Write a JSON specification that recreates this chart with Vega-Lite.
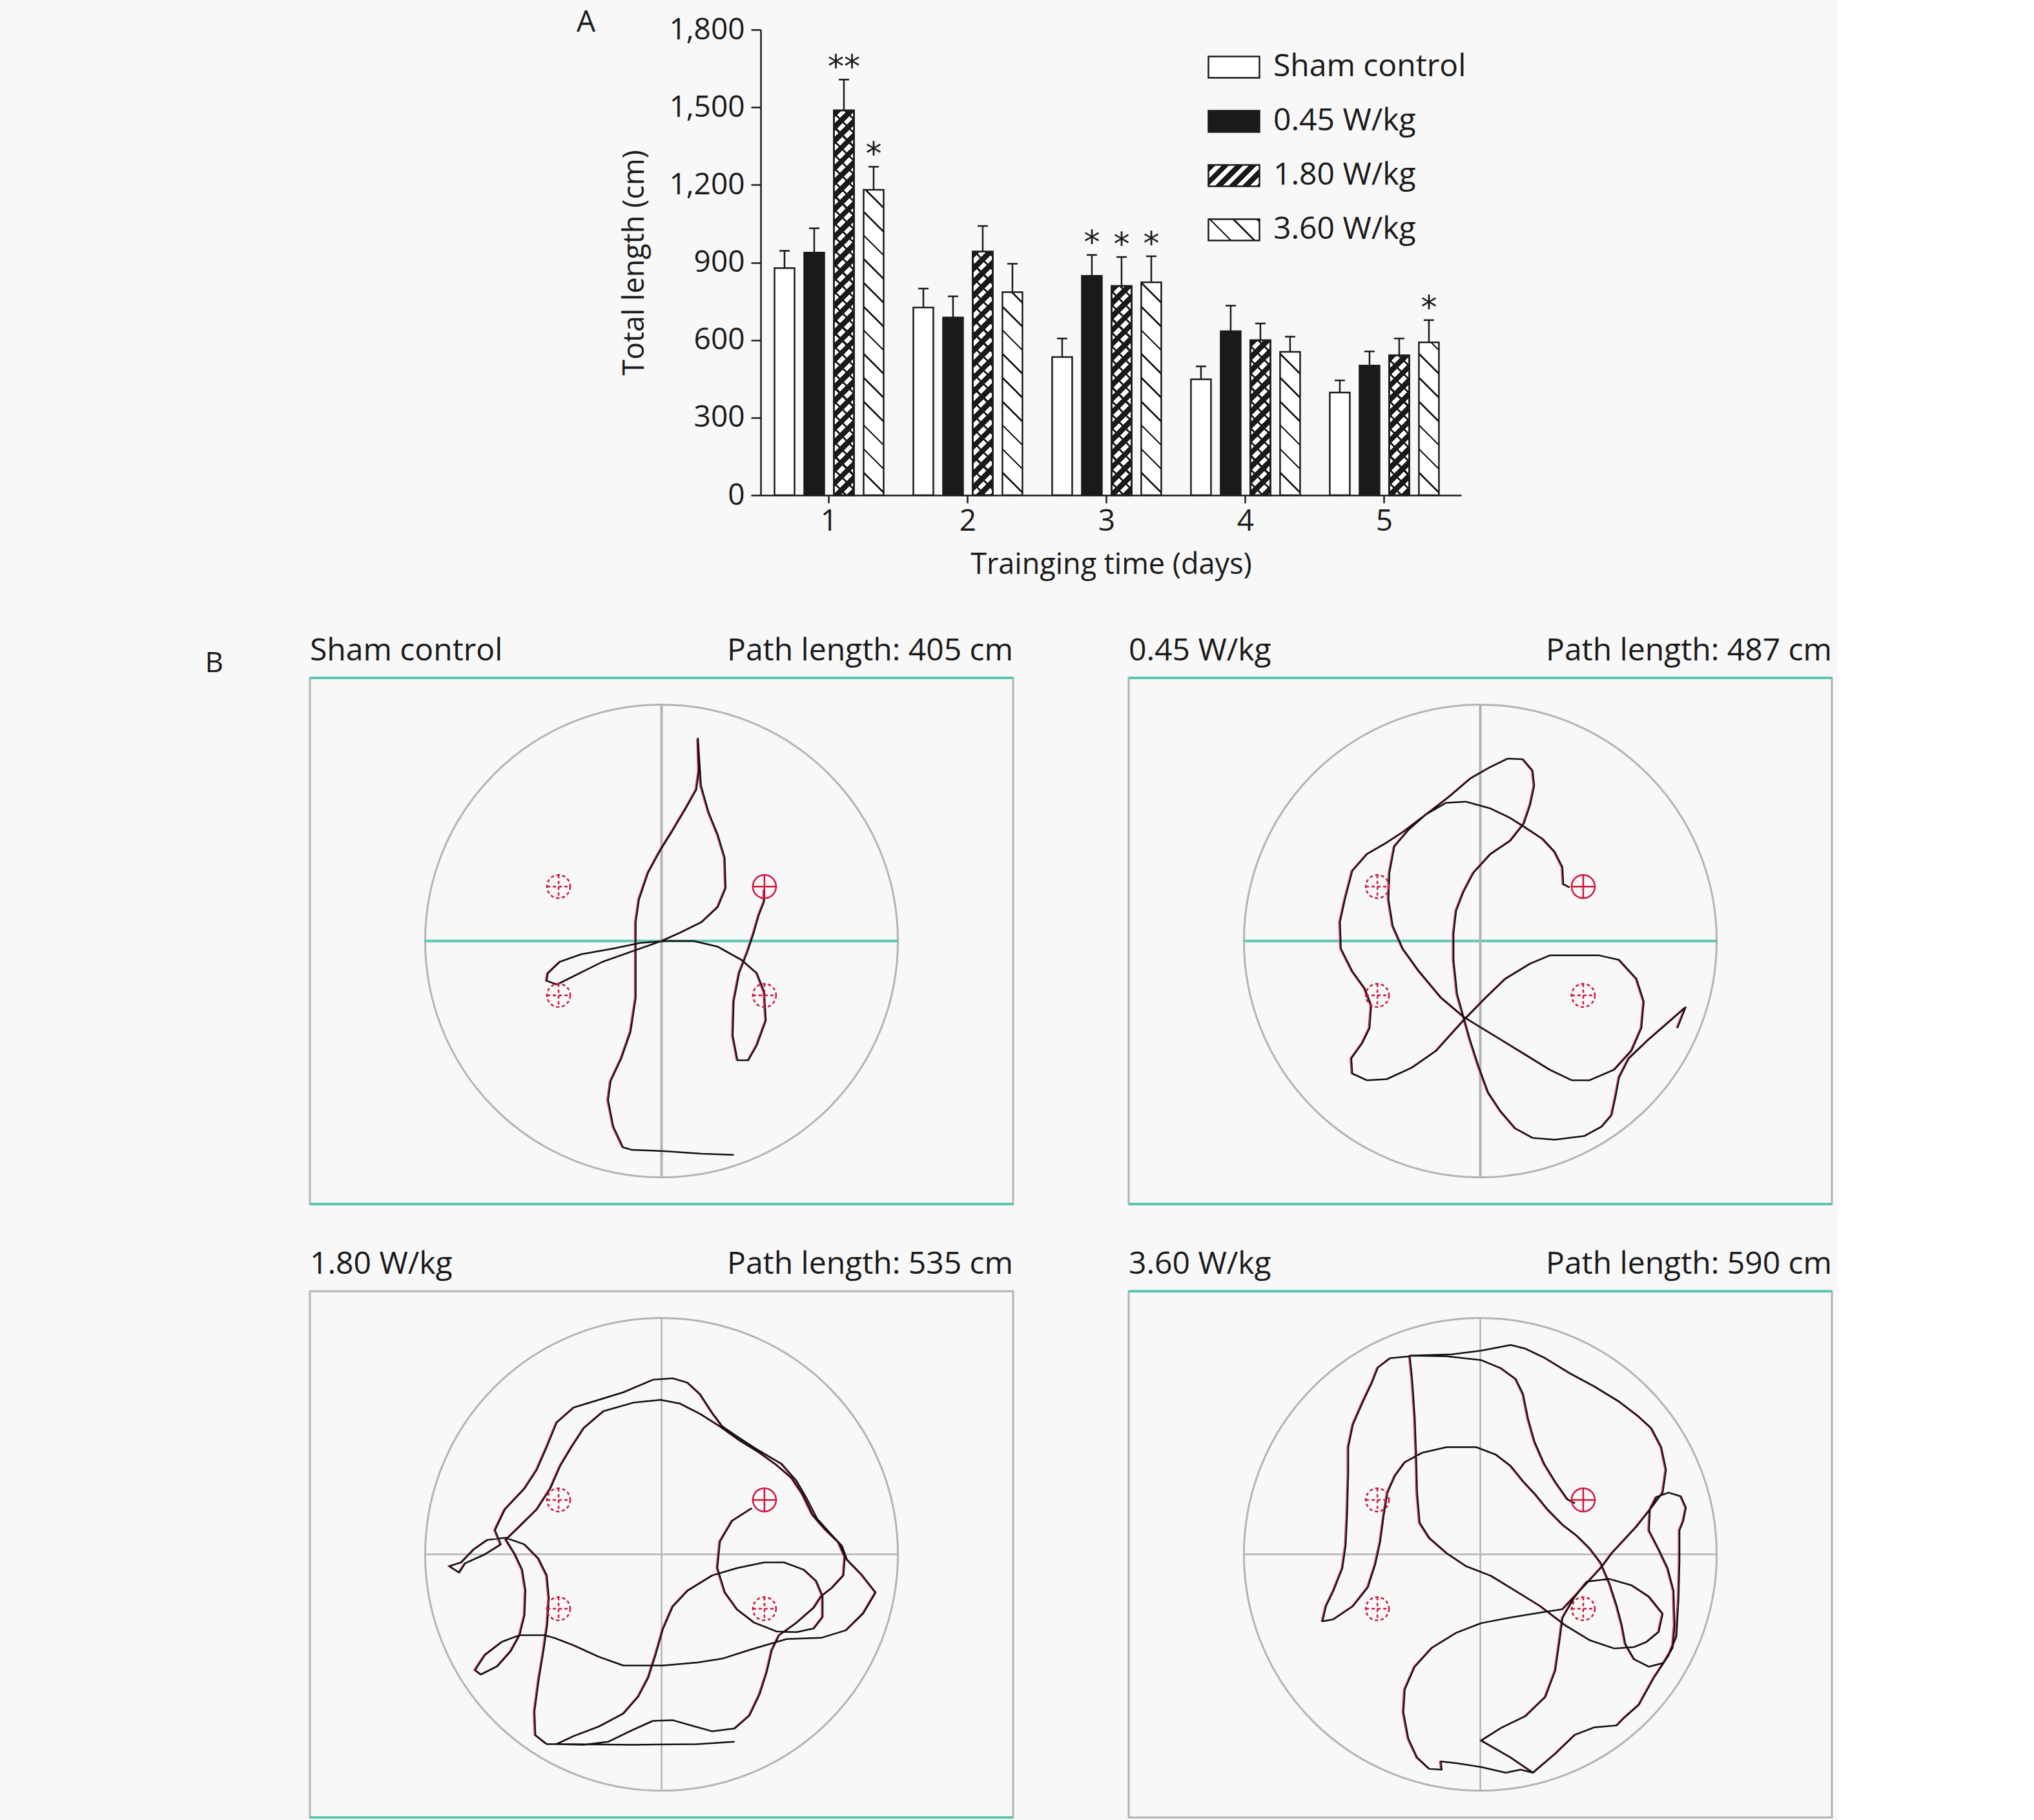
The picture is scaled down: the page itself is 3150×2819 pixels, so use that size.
{
  "$schema": "https://vega.github.io/schema/vega-lite/v6.json",
  "background": "#f8f8f8",
  "padding": {"left": 317, "top": 12, "right": 5, "bottom": 0},
  "config": {"font": "Open Sans", "view": {"stroke": null}, "axis": {"grid": false}},
  "params": [
    {"name": "hatchA", "value": [
      {"offset":0,"color":"#ffffff"},{"offset":0.05625,"color":"#ffffff"},{"offset":0.05625,"color":"#1a1a1a"},{"offset":0.0625,"color":"#1a1a1a"},
      {"offset":0.0625,"color":"#ffffff"},{"offset":0.11875,"color":"#ffffff"},{"offset":0.11875,"color":"#1a1a1a"},{"offset":0.125,"color":"#1a1a1a"},
      {"offset":0.125,"color":"#ffffff"},{"offset":0.18125,"color":"#ffffff"},{"offset":0.18125,"color":"#1a1a1a"},{"offset":0.1875,"color":"#1a1a1a"},
      {"offset":0.1875,"color":"#ffffff"},{"offset":0.24375,"color":"#ffffff"},{"offset":0.24375,"color":"#1a1a1a"},{"offset":0.25,"color":"#1a1a1a"},
      {"offset":0.25,"color":"#ffffff"},{"offset":0.30625,"color":"#ffffff"},{"offset":0.30625,"color":"#1a1a1a"},{"offset":0.3125,"color":"#1a1a1a"},
      {"offset":0.3125,"color":"#ffffff"},{"offset":0.36875,"color":"#ffffff"},{"offset":0.36875,"color":"#1a1a1a"},{"offset":0.375,"color":"#1a1a1a"},
      {"offset":0.375,"color":"#ffffff"},{"offset":0.43125,"color":"#ffffff"},{"offset":0.43125,"color":"#1a1a1a"},{"offset":0.4375,"color":"#1a1a1a"},
      {"offset":0.4375,"color":"#ffffff"},{"offset":0.49375,"color":"#ffffff"},{"offset":0.49375,"color":"#1a1a1a"},{"offset":0.5,"color":"#1a1a1a"},
      {"offset":0.5,"color":"#ffffff"},{"offset":0.55625,"color":"#ffffff"},{"offset":0.55625,"color":"#1a1a1a"},{"offset":0.5625,"color":"#1a1a1a"},
      {"offset":0.5625,"color":"#ffffff"},{"offset":0.61875,"color":"#ffffff"},{"offset":0.61875,"color":"#1a1a1a"},{"offset":0.625,"color":"#1a1a1a"},
      {"offset":0.625,"color":"#ffffff"},{"offset":0.68125,"color":"#ffffff"},{"offset":0.68125,"color":"#1a1a1a"},{"offset":0.6875,"color":"#1a1a1a"},
      {"offset":0.6875,"color":"#ffffff"},{"offset":0.74375,"color":"#ffffff"},{"offset":0.74375,"color":"#1a1a1a"},{"offset":0.75,"color":"#1a1a1a"},
      {"offset":0.75,"color":"#ffffff"},{"offset":0.80625,"color":"#ffffff"},{"offset":0.80625,"color":"#1a1a1a"},{"offset":0.8125,"color":"#1a1a1a"},
      {"offset":0.8125,"color":"#ffffff"},{"offset":0.86875,"color":"#ffffff"},{"offset":0.86875,"color":"#1a1a1a"},{"offset":0.875,"color":"#1a1a1a"},
      {"offset":0.875,"color":"#ffffff"},{"offset":0.93125,"color":"#ffffff"},{"offset":0.93125,"color":"#1a1a1a"},{"offset":0.9375,"color":"#1a1a1a"},
      {"offset":0.9375,"color":"#ffffff"},{"offset":0.99375,"color":"#ffffff"},{"offset":0.99375,"color":"#1a1a1a"},{"offset":1,"color":"#1a1a1a"}
    ]},
    {"name": "hatchB", "value": [
      {"offset":0,"color":"#1a1a1a"},{"offset":0.01833,"color":"#1a1a1a"},{"offset":0.01833,"color":"#ffffff"},{"offset":0.03333,"color":"#ffffff"},
      {"offset":0.03333,"color":"#1a1a1a"},{"offset":0.05167,"color":"#1a1a1a"},{"offset":0.05167,"color":"#ffffff"},{"offset":0.06667,"color":"#ffffff"},
      {"offset":0.06667,"color":"#1a1a1a"},{"offset":0.085,"color":"#1a1a1a"},{"offset":0.085,"color":"#ffffff"},{"offset":0.1,"color":"#ffffff"},
      {"offset":0.1,"color":"#1a1a1a"},{"offset":0.11833,"color":"#1a1a1a"},{"offset":0.11833,"color":"#ffffff"},{"offset":0.13333,"color":"#ffffff"},
      {"offset":0.13333,"color":"#1a1a1a"},{"offset":0.15167,"color":"#1a1a1a"},{"offset":0.15167,"color":"#ffffff"},{"offset":0.16667,"color":"#ffffff"},
      {"offset":0.16667,"color":"#1a1a1a"},{"offset":0.185,"color":"#1a1a1a"},{"offset":0.185,"color":"#ffffff"},{"offset":0.2,"color":"#ffffff"},
      {"offset":0.2,"color":"#1a1a1a"},{"offset":0.21833,"color":"#1a1a1a"},{"offset":0.21833,"color":"#ffffff"},{"offset":0.23333,"color":"#ffffff"},
      {"offset":0.23333,"color":"#1a1a1a"},{"offset":0.25167,"color":"#1a1a1a"},{"offset":0.25167,"color":"#ffffff"},{"offset":0.26667,"color":"#ffffff"},
      {"offset":0.26667,"color":"#1a1a1a"},{"offset":0.285,"color":"#1a1a1a"},{"offset":0.285,"color":"#ffffff"},{"offset":0.3,"color":"#ffffff"},
      {"offset":0.3,"color":"#1a1a1a"},{"offset":0.31833,"color":"#1a1a1a"},{"offset":0.31833,"color":"#ffffff"},{"offset":0.33333,"color":"#ffffff"},
      {"offset":0.33333,"color":"#1a1a1a"},{"offset":0.35167,"color":"#1a1a1a"},{"offset":0.35167,"color":"#ffffff"},{"offset":0.36667,"color":"#ffffff"},
      {"offset":0.36667,"color":"#1a1a1a"},{"offset":0.385,"color":"#1a1a1a"},{"offset":0.385,"color":"#ffffff"},{"offset":0.4,"color":"#ffffff"},
      {"offset":0.4,"color":"#1a1a1a"},{"offset":0.41833,"color":"#1a1a1a"},{"offset":0.41833,"color":"#ffffff"},{"offset":0.43333,"color":"#ffffff"},
      {"offset":0.43333,"color":"#1a1a1a"},{"offset":0.45167,"color":"#1a1a1a"},{"offset":0.45167,"color":"#ffffff"},{"offset":0.46667,"color":"#ffffff"},
      {"offset":0.46667,"color":"#1a1a1a"},{"offset":0.485,"color":"#1a1a1a"},{"offset":0.485,"color":"#ffffff"},{"offset":0.5,"color":"#ffffff"},
      {"offset":0.5,"color":"#1a1a1a"},{"offset":0.51833,"color":"#1a1a1a"},{"offset":0.51833,"color":"#ffffff"},{"offset":0.53333,"color":"#ffffff"},
      {"offset":0.53333,"color":"#1a1a1a"},{"offset":0.55167,"color":"#1a1a1a"},{"offset":0.55167,"color":"#ffffff"},{"offset":0.56667,"color":"#ffffff"},
      {"offset":0.56667,"color":"#1a1a1a"},{"offset":0.585,"color":"#1a1a1a"},{"offset":0.585,"color":"#ffffff"},{"offset":0.6,"color":"#ffffff"},
      {"offset":0.6,"color":"#1a1a1a"},{"offset":0.61833,"color":"#1a1a1a"},{"offset":0.61833,"color":"#ffffff"},{"offset":0.63333,"color":"#ffffff"},
      {"offset":0.63333,"color":"#1a1a1a"},{"offset":0.65167,"color":"#1a1a1a"},{"offset":0.65167,"color":"#ffffff"},{"offset":0.66667,"color":"#ffffff"},
      {"offset":0.66667,"color":"#1a1a1a"},{"offset":0.685,"color":"#1a1a1a"},{"offset":0.685,"color":"#ffffff"},{"offset":0.7,"color":"#ffffff"},
      {"offset":0.7,"color":"#1a1a1a"},{"offset":0.71833,"color":"#1a1a1a"},{"offset":0.71833,"color":"#ffffff"},{"offset":0.73333,"color":"#ffffff"},
      {"offset":0.73333,"color":"#1a1a1a"},{"offset":0.75167,"color":"#1a1a1a"},{"offset":0.75167,"color":"#ffffff"},{"offset":0.76667,"color":"#ffffff"},
      {"offset":0.76667,"color":"#1a1a1a"},{"offset":0.785,"color":"#1a1a1a"},{"offset":0.785,"color":"#ffffff"},{"offset":0.8,"color":"#ffffff"},
      {"offset":0.8,"color":"#1a1a1a"},{"offset":0.81833,"color":"#1a1a1a"},{"offset":0.81833,"color":"#ffffff"},{"offset":0.83333,"color":"#ffffff"},
      {"offset":0.83333,"color":"#1a1a1a"},{"offset":0.85167,"color":"#1a1a1a"},{"offset":0.85167,"color":"#ffffff"},{"offset":0.86667,"color":"#ffffff"},
      {"offset":0.86667,"color":"#1a1a1a"},{"offset":0.885,"color":"#1a1a1a"},{"offset":0.885,"color":"#ffffff"},{"offset":0.9,"color":"#ffffff"},
      {"offset":0.9,"color":"#1a1a1a"},{"offset":0.91833,"color":"#1a1a1a"},{"offset":0.91833,"color":"#ffffff"},{"offset":0.93333,"color":"#ffffff"},
      {"offset":0.93333,"color":"#1a1a1a"},{"offset":0.95167,"color":"#1a1a1a"},{"offset":0.95167,"color":"#ffffff"},{"offset":0.96667,"color":"#ffffff"},
      {"offset":0.96667,"color":"#1a1a1a"},{"offset":0.985,"color":"#1a1a1a"},{"offset":0.985,"color":"#ffffff"},{"offset":1,"color":"#ffffff"}
    ]},
    {"name": "hatchC", "value": [
      {"offset":0,"color":"rgba(26,26,26,0)"},{"offset":0.02667,"color":"rgba(26,26,26,0)"},{"offset":0.02667,"color":"#1a1a1a"},{"offset":0.03333,"color":"#1a1a1a"},
      {"offset":0.03333,"color":"rgba(26,26,26,0)"},{"offset":0.06,"color":"rgba(26,26,26,0)"},{"offset":0.06,"color":"#1a1a1a"},{"offset":0.06667,"color":"#1a1a1a"},
      {"offset":0.06667,"color":"rgba(26,26,26,0)"},{"offset":0.09333,"color":"rgba(26,26,26,0)"},{"offset":0.09333,"color":"#1a1a1a"},{"offset":0.1,"color":"#1a1a1a"},
      {"offset":0.1,"color":"rgba(26,26,26,0)"},{"offset":0.12667,"color":"rgba(26,26,26,0)"},{"offset":0.12667,"color":"#1a1a1a"},{"offset":0.13333,"color":"#1a1a1a"},
      {"offset":0.13333,"color":"rgba(26,26,26,0)"},{"offset":0.16,"color":"rgba(26,26,26,0)"},{"offset":0.16,"color":"#1a1a1a"},{"offset":0.16667,"color":"#1a1a1a"},
      {"offset":0.16667,"color":"rgba(26,26,26,0)"},{"offset":0.19333,"color":"rgba(26,26,26,0)"},{"offset":0.19333,"color":"#1a1a1a"},{"offset":0.2,"color":"#1a1a1a"},
      {"offset":0.2,"color":"rgba(26,26,26,0)"},{"offset":0.22667,"color":"rgba(26,26,26,0)"},{"offset":0.22667,"color":"#1a1a1a"},{"offset":0.23333,"color":"#1a1a1a"},
      {"offset":0.23333,"color":"rgba(26,26,26,0)"},{"offset":0.26,"color":"rgba(26,26,26,0)"},{"offset":0.26,"color":"#1a1a1a"},{"offset":0.26667,"color":"#1a1a1a"},
      {"offset":0.26667,"color":"rgba(26,26,26,0)"},{"offset":0.29333,"color":"rgba(26,26,26,0)"},{"offset":0.29333,"color":"#1a1a1a"},{"offset":0.3,"color":"#1a1a1a"},
      {"offset":0.3,"color":"rgba(26,26,26,0)"},{"offset":0.32667,"color":"rgba(26,26,26,0)"},{"offset":0.32667,"color":"#1a1a1a"},{"offset":0.33333,"color":"#1a1a1a"},
      {"offset":0.33333,"color":"rgba(26,26,26,0)"},{"offset":0.36,"color":"rgba(26,26,26,0)"},{"offset":0.36,"color":"#1a1a1a"},{"offset":0.36667,"color":"#1a1a1a"},
      {"offset":0.36667,"color":"rgba(26,26,26,0)"},{"offset":0.39333,"color":"rgba(26,26,26,0)"},{"offset":0.39333,"color":"#1a1a1a"},{"offset":0.4,"color":"#1a1a1a"},
      {"offset":0.4,"color":"rgba(26,26,26,0)"},{"offset":0.42667,"color":"rgba(26,26,26,0)"},{"offset":0.42667,"color":"#1a1a1a"},{"offset":0.43333,"color":"#1a1a1a"},
      {"offset":0.43333,"color":"rgba(26,26,26,0)"},{"offset":0.46,"color":"rgba(26,26,26,0)"},{"offset":0.46,"color":"#1a1a1a"},{"offset":0.46667,"color":"#1a1a1a"},
      {"offset":0.46667,"color":"rgba(26,26,26,0)"},{"offset":0.49333,"color":"rgba(26,26,26,0)"},{"offset":0.49333,"color":"#1a1a1a"},{"offset":0.5,"color":"#1a1a1a"},
      {"offset":0.5,"color":"rgba(26,26,26,0)"},{"offset":0.52667,"color":"rgba(26,26,26,0)"},{"offset":0.52667,"color":"#1a1a1a"},{"offset":0.53333,"color":"#1a1a1a"},
      {"offset":0.53333,"color":"rgba(26,26,26,0)"},{"offset":0.56,"color":"rgba(26,26,26,0)"},{"offset":0.56,"color":"#1a1a1a"},{"offset":0.56667,"color":"#1a1a1a"},
      {"offset":0.56667,"color":"rgba(26,26,26,0)"},{"offset":0.59333,"color":"rgba(26,26,26,0)"},{"offset":0.59333,"color":"#1a1a1a"},{"offset":0.6,"color":"#1a1a1a"},
      {"offset":0.6,"color":"rgba(26,26,26,0)"},{"offset":0.62667,"color":"rgba(26,26,26,0)"},{"offset":0.62667,"color":"#1a1a1a"},{"offset":0.63333,"color":"#1a1a1a"},
      {"offset":0.63333,"color":"rgba(26,26,26,0)"},{"offset":0.66,"color":"rgba(26,26,26,0)"},{"offset":0.66,"color":"#1a1a1a"},{"offset":0.66667,"color":"#1a1a1a"},
      {"offset":0.66667,"color":"rgba(26,26,26,0)"},{"offset":0.69333,"color":"rgba(26,26,26,0)"},{"offset":0.69333,"color":"#1a1a1a"},{"offset":0.7,"color":"#1a1a1a"},
      {"offset":0.7,"color":"rgba(26,26,26,0)"},{"offset":0.72667,"color":"rgba(26,26,26,0)"},{"offset":0.72667,"color":"#1a1a1a"},{"offset":0.73333,"color":"#1a1a1a"},
      {"offset":0.73333,"color":"rgba(26,26,26,0)"},{"offset":0.76,"color":"rgba(26,26,26,0)"},{"offset":0.76,"color":"#1a1a1a"},{"offset":0.76667,"color":"#1a1a1a"},
      {"offset":0.76667,"color":"rgba(26,26,26,0)"},{"offset":0.79333,"color":"rgba(26,26,26,0)"},{"offset":0.79333,"color":"#1a1a1a"},{"offset":0.8,"color":"#1a1a1a"},
      {"offset":0.8,"color":"rgba(26,26,26,0)"},{"offset":0.82667,"color":"rgba(26,26,26,0)"},{"offset":0.82667,"color":"#1a1a1a"},{"offset":0.83333,"color":"#1a1a1a"},
      {"offset":0.83333,"color":"rgba(26,26,26,0)"},{"offset":0.86,"color":"rgba(26,26,26,0)"},{"offset":0.86,"color":"#1a1a1a"},{"offset":0.86667,"color":"#1a1a1a"},
      {"offset":0.86667,"color":"rgba(26,26,26,0)"},{"offset":0.89333,"color":"rgba(26,26,26,0)"},{"offset":0.89333,"color":"#1a1a1a"},{"offset":0.9,"color":"#1a1a1a"},
      {"offset":0.9,"color":"rgba(26,26,26,0)"},{"offset":0.92667,"color":"rgba(26,26,26,0)"},{"offset":0.92667,"color":"#1a1a1a"},{"offset":0.93333,"color":"#1a1a1a"},
      {"offset":0.93333,"color":"rgba(26,26,26,0)"},{"offset":0.96,"color":"rgba(26,26,26,0)"},{"offset":0.96,"color":"#1a1a1a"},{"offset":0.96667,"color":"#1a1a1a"},
      {"offset":0.96667,"color":"rgba(26,26,26,0)"},{"offset":0.99333,"color":"rgba(26,26,26,0)"},{"offset":0.99333,"color":"#1a1a1a"},{"offset":1,"color":"#1a1a1a"}
    ]}
  ],
  "spacing": 85,
  "resolve": {"legend": {"stroke": "independent"}},
  "vconcat": [
    {
      "spacing": 20,
      "resolve": {"legend": {"stroke": "independent"}},
      "hconcat": [
        {
          "width": 392, "height": 10,
          "data": {"values": [{"n": 1}]},
          "mark": {"type": "point", "opacity": 0}
        },
        {
          "width": 1085, "height": 721,
          "title": {"text": "A", "anchor": "start", "frame": "bounds", "dx": -68, "dy": 40, "fontSize": 46, "fontWeight": "normal", "font": "Open Sans", "color": "#1a1a1a"},
          "data": {"values": [
            {"day":"1","group":"Sham control","value":878,"err":945,"sig":""},
            {"day":"1","group":"0.45 W/kg","value":938,"err":1032,"sig":""},
            {"day":"1","group":"1.80 W/kg","value":1488,"err":1607,"sig":"**"},
            {"day":"1","group":"3.60 W/kg","value":1181,"err":1270,"sig":"*"},
            {"day":"2","group":"Sham control","value":726,"err":799,"sig":""},
            {"day":"2","group":"0.45 W/kg","value":687,"err":769,"sig":""},
            {"day":"2","group":"1.80 W/kg","value":942,"err":1041,"sig":""},
            {"day":"2","group":"3.60 W/kg","value":785,"err":895,"sig":""},
            {"day":"3","group":"Sham control","value":534,"err":606,"sig":""},
            {"day":"3","group":"0.45 W/kg","value":848,"err":929,"sig":"*"},
            {"day":"3","group":"1.80 W/kg","value":809,"err":921,"sig":"*"},
            {"day":"3","group":"3.60 W/kg","value":823,"err":924,"sig":"*"},
            {"day":"4","group":"Sham control","value":448,"err":498,"sig":""},
            {"day":"4","group":"0.45 W/kg","value":634,"err":733,"sig":""},
            {"day":"4","group":"1.80 W/kg","value":599,"err":664,"sig":""},
            {"day":"4","group":"3.60 W/kg","value":554,"err":613,"sig":""},
            {"day":"5","group":"Sham control","value":397,"err":444,"sig":""},
            {"day":"5","group":"0.45 W/kg","value":501,"err":556,"sig":""},
            {"day":"5","group":"1.80 W/kg","value":541,"err":606,"sig":""},
            {"day":"5","group":"3.60 W/kg","value":591,"err":677,"sig":"*"}
          ]},
          "encoding": {
            "x": {"field": "day", "type": "nominal", "title": "Trainging time (days)",
                  "scale": {"paddingInner": 0.144, "paddingOuter": 0.0953, "align": 0.34},
                  "axis": {"labelAngle": 0, "labelFontSize": 46, "titleFontSize": 45, "titleFontWeight": "normal", "tickSize": 12, "tickWidth": 2.5, "domainWidth": 2.5, "domainColor": "#1a1a1a", "tickColor": "#1a1a1a", "labelColor": "#1a1a1a", "titleColor": "#1a1a1a", "labelPadding": 6, "titlePadding": 22}},
            "xOffset": {"field": "group", "type": "nominal", "sort": ["Sham control", "0.45 W/kg", "1.80 W/kg", "3.60 W/kg"], "scale": {"paddingInner": 0.326, "paddingOuter": 0.1635}}
          },
          "layer": [
            {
              "mark": {"type": "bar", "strokeWidth": 2.5},
              "encoding": {
                "y": {"field": "value", "type": "quantitative", "title": "Total length (cm)",
                      "scale": {"domain": [0, 1800], "nice": false},
                      "axis": {"values": [0, 300, 600, 900, 1200, 1500, 1800], "format": ",d", "labelFontSize": 46, "titleFontSize": 45, "titleFontWeight": "normal", "tickSize": 15, "tickWidth": 2.5, "domainWidth": 2.5, "domainColor": "#1a1a1a", "tickColor": "#1a1a1a", "labelColor": "#1a1a1a", "titleColor": "#1a1a1a", "labelPadding": 10, "titlePadding": 30}},
                "stroke": {"field": "group", "type": "nominal",
                           "scale": {"domain": ["Sham control", "0.45 W/kg", "1.80 W/kg", "3.60 W/kg"], "range": ["#1a1a1a", "#1a1a1a", "#1a1a1a", "#1a1a1a"]},
                           "legend": {"title": null, "orient": "none", "legendX": 692, "legendY": 17, "padding": 0,
                                      "labelFontSize": 48, "labelFont": "Open Sans", "labelColor": "#1a1a1a", "labelOffset": 20, "labelLimit": 500, "rowPadding": 19,
                                      "symbolType": "M-1,-0.418L1,-0.418L1,0.418L-1,0.418Z", "symbolSize": 6241, "symbolStrokeWidth": 2.5, "symbolStrokeColor": "#1a1a1a",
                                      "encoding": {"symbols": {
                                        "stroke": {"value": "#1a1a1a"},
                                        "strokeWidth": {"value": 2.5},
                                        "opacity": {"value": 1},
                                        "fill": {"value": {"expr": "datum.value === '0.45 W/kg' ? '#1a1a1a' : datum.value === '1.80 W/kg' ? {gradient: 'linear', x1: 0, y1: 0, x2: 6.86, y2: 2.865, stops: hatchB} : datum.value === '3.60 W/kg' ? {gradient: 'linear', x1: 0, y1: 1, x2: 6.34, y2: -1.649, stops: hatchA} : '#ffffff'"}}
                                      }}}},
                "fill": {"value": {"expr": "datum.group === '3.60 W/kg' ? {gradient: 'linear', x1: 0, y1: 1, x2: 18237/(961 + datum.value*datum.value*0.16045), y2: 1 - 235.65*datum.value/(961 + datum.value*datum.value*0.16045), stops: hatchA} : datum.group === '1.80 W/kg' ? {gradient: 'linear', x1: 0, y1: 0, x2: 19728/(961 + datum.value*datum.value*0.16045), y2: 254.92*datum.value/(961 + datum.value*datum.value*0.16045), stops: hatchB} : datum.group === '0.45 W/kg' ? '#1a1a1a' : '#ffffff'"}}
              }
            },
            {
              "transform": [{"filter": "datum.group === '1.80 W/kg'"}],
              "mark": {"type": "bar", "strokeWidth": 2.5, "stroke": "#1a1a1a"},
              "encoding": {
                "y": {"field": "value", "type": "quantitative"},
                "fill": {"value": {"expr": "{gradient: 'linear', x1: 0, y1: 1, x2: 19728/(961 + datum.value*datum.value*0.16045), y2: 1 - 254.92*datum.value/(961 + datum.value*datum.value*0.16045), stops: hatchC}"}}
              }
            },
            {
              "mark": {"type": "rule", "color": "#1a1a1a", "strokeWidth": 2.5},
              "encoding": {"y": {"field": "value", "type": "quantitative"}, "y2": {"field": "err"}}
            },
            {
              "mark": {"type": "tick", "color": "#1a1a1a", "thickness": 2.5, "size": 16, "orient": "horizontal", "opacity": 1},
              "encoding": {"y": {"field": "err", "type": "quantitative"}}
            },
            {
              "mark": {"type": "text", "fontSize": 50, "baseline": "alphabetic", "dy": -3, "color": "#1a1a1a", "font": "DejaVu Sans"},
              "encoding": {"y": {"field": "err", "type": "quantitative"}, "text": {"field": "sig"}}
            }
          ]
        }
      ]
    },
    {
      "title": {"text": "B", "anchor": "start", "frame": "bounds", "dx": -159, "dy": 71, "fontSize": 44, "fontWeight": "normal", "font": "Open Sans", "color": "#1a1a1a"},
      "bounds": "flush",
      "data": {"values": [
        {"panel":"Sham control","type":"pool","x":0,"y":0},
        {"panel":"0.45 W/kg","type":"pool","x":0,"y":0},
        {"panel":"1.80 W/kg","type":"pool","x":0,"y":0},
        {"panel":"3.60 W/kg","type":"pool","x":0,"y":0},
        {"panel":"Sham control","type":"hline","x":-1,"x2":1,"y":0,"y2":0},
        {"panel":"Sham control","type":"vline","x":0,"x2":0,"y":-1,"y2":1},
        {"panel":"0.45 W/kg","type":"hline","x":-1,"x2":1,"y":0,"y2":0},
        {"panel":"0.45 W/kg","type":"vline","x":0,"x2":0,"y":-1,"y2":1},
        {"panel":"1.80 W/kg","type":"hline","x":-1,"x2":1,"y":0,"y2":0},
        {"panel":"1.80 W/kg","type":"vline","x":0,"x2":0,"y":-1,"y2":1},
        {"panel":"3.60 W/kg","type":"hline","x":-1,"x2":1,"y":0,"y2":0},
        {"panel":"3.60 W/kg","type":"vline","x":0,"x2":0,"y":-1,"y2":1},
        {"panel":"Sham control","type":"edge","x":-1.486,"x2":1.486,"y":1.112,"y2":1.112},
        {"panel":"Sham control","type":"edge","x":-1.486,"x2":1.486,"y":-1.112,"y2":-1.112},
        {"panel":"0.45 W/kg","type":"edge","x":-1.486,"x2":1.486,"y":1.112,"y2":1.112},
        {"panel":"0.45 W/kg","type":"edge","x":-1.486,"x2":1.486,"y":-1.112,"y2":-1.112},
        {"panel":"1.80 W/kg","type":"edge","x":-1.486,"x2":1.486,"y":-1.112,"y2":-1.112},
        {"panel":"3.60 W/kg","type":"edge","x":-1.486,"x2":1.486,"y":1.112,"y2":1.112},
        {"panel":"Sham control","type":"platform","x":-0.435,"y":0.23,"target":false},
        {"panel":"Sham control","type":"platform","x":0.435,"y":0.23,"target":true},
        {"panel":"Sham control","type":"platform","x":-0.435,"y":-0.23,"target":false},
        {"panel":"Sham control","type":"platform","x":0.435,"y":-0.23,"target":false},
        {"panel":"0.45 W/kg","type":"platform","x":-0.435,"y":0.23,"target":false},
        {"panel":"0.45 W/kg","type":"platform","x":0.435,"y":0.23,"target":true},
        {"panel":"0.45 W/kg","type":"platform","x":-0.435,"y":-0.23,"target":false},
        {"panel":"0.45 W/kg","type":"platform","x":0.435,"y":-0.23,"target":false},
        {"panel":"1.80 W/kg","type":"platform","x":-0.435,"y":0.23,"target":false},
        {"panel":"1.80 W/kg","type":"platform","x":0.435,"y":0.23,"target":true},
        {"panel":"1.80 W/kg","type":"platform","x":-0.435,"y":-0.23,"target":false},
        {"panel":"1.80 W/kg","type":"platform","x":0.435,"y":-0.23,"target":false},
        {"panel":"3.60 W/kg","type":"platform","x":-0.435,"y":0.23,"target":false},
        {"panel":"3.60 W/kg","type":"platform","x":0.435,"y":0.23,"target":true},
        {"panel":"3.60 W/kg","type":"platform","x":-0.435,"y":-0.23,"target":false},
        {"panel":"3.60 W/kg","type":"platform","x":0.435,"y":-0.23,"target":false},
        {"panel":"Sham control","type":"name","x":-1.486,"y":1.112},
        {"panel":"0.45 W/kg","type":"name","x":-1.486,"y":1.112},
        {"panel":"1.80 W/kg","type":"name","x":-1.486,"y":1.112},
        {"panel":"3.60 W/kg","type":"name","x":-1.486,"y":1.112},
        {"panel":"Sham control","type":"label","x":1.486,"y":1.112,"label":"Path length: 405 cm"},
        {"panel":"0.45 W/kg","type":"label","x":1.486,"y":1.112,"label":"Path length: 487 cm"},
        {"panel":"1.80 W/kg","type":"label","x":1.486,"y":1.112,"label":"Path length: 535 cm"},
        {"panel":"3.60 W/kg","type":"label","x":1.486,"y":1.112,"label":"Path length: 590 cm"},

        {"panel":"Sham control","type":"path","i":1,"x":0.305,"y":-0.904},
        {"panel":"Sham control","type":"path","i":2,"x":0.170,"y":-0.899},
        {"panel":"Sham control","type":"path","i":3,"x":0.011,"y":-0.888},
        {"panel":"Sham control","type":"path","i":4,"x":-0.124,"y":-0.883},
        {"panel":"Sham control","type":"path","i":5,"x":-0.163,"y":-0.872},
        {"panel":"Sham control","type":"path","i":6,"x":-0.204,"y":-0.784},
        {"panel":"Sham control","type":"path","i":7,"x":-0.226,"y":-0.672},
        {"panel":"Sham control","type":"path","i":8,"x":-0.215,"y":-0.592},
        {"panel":"Sham control","type":"path","i":9,"x":-0.170,"y":-0.496},
        {"panel":"Sham control","type":"path","i":10,"x":-0.131,"y":-0.384},
        {"panel":"Sham control","type":"path","i":11,"x":-0.109,"y":-0.240},
        {"panel":"Sham control","type":"path","i":12,"x":-0.109,"y":-0.080},
        {"panel":"Sham control","type":"path","i":13,"x":-0.109,"y":0.080},
        {"panel":"Sham control","type":"path","i":14,"x":-0.095,"y":0.176},
        {"panel":"Sham control","type":"path","i":15,"x":-0.057,"y":0.288},
        {"panel":"Sham control","type":"path","i":16,"x":-0.005,"y":0.384},
        {"panel":"Sham control","type":"path","i":17,"x":0.045,"y":0.464},
        {"panel":"Sham control","type":"path","i":18,"x":0.102,"y":0.560},
        {"panel":"Sham control","type":"path","i":19,"x":0.147,"y":0.640},
        {"panel":"Sham control","type":"path","i":20,"x":0.158,"y":0.720},
        {"panel":"Sham control","type":"path","i":21,"x":0.154,"y":0.856},
        {"panel":"Sham control","type":"path","i":22,"x":0.167,"y":0.656},
        {"panel":"Sham control","type":"path","i":23,"x":0.199,"y":0.544},
        {"panel":"Sham control","type":"path","i":24,"x":0.238,"y":0.448},
        {"panel":"Sham control","type":"path","i":25,"x":0.267,"y":0.352},
        {"panel":"Sham control","type":"path","i":26,"x":0.271,"y":0.224},
        {"panel":"Sham control","type":"path","i":27,"x":0.238,"y":0.144},
        {"panel":"Sham control","type":"path","i":28,"x":0.170,"y":0.080},
        {"panel":"Sham control","type":"path","i":29,"x":0.079,"y":0.035},
        {"panel":"Sham control","type":"path","i":30,"x":0.000,"y":0.000},
        {"panel":"Sham control","type":"path","i":31,"x":-0.113,"y":-0.040},
        {"panel":"Sham control","type":"path","i":32,"x":-0.249,"y":-0.088},
        {"panel":"Sham control","type":"path","i":33,"x":-0.362,"y":-0.144},
        {"panel":"Sham control","type":"path","i":34,"x":-0.441,"y":-0.184},
        {"panel":"Sham control","type":"path","i":35,"x":-0.486,"y":-0.168},
        {"panel":"Sham control","type":"path","i":36,"x":-0.480,"y":-0.136},
        {"panel":"Sham control","type":"path","i":37,"x":-0.430,"y":-0.088},
        {"panel":"Sham control","type":"path","i":38,"x":-0.339,"y":-0.056},
        {"panel":"Sham control","type":"path","i":39,"x":-0.204,"y":-0.032},
        {"panel":"Sham control","type":"path","i":40,"x":-0.090,"y":-0.008},
        {"panel":"Sham control","type":"path","i":41,"x":0.023,"y":0.000},
        {"panel":"Sham control","type":"path","i":42,"x":0.136,"y":0.000},
        {"panel":"Sham control","type":"path","i":43,"x":0.238,"y":-0.024},
        {"panel":"Sham control","type":"path","i":44,"x":0.339,"y":-0.080},
        {"panel":"Sham control","type":"path","i":45,"x":0.403,"y":-0.136},
        {"panel":"Sham control","type":"path","i":46,"x":0.434,"y":-0.216},
        {"panel":"Sham control","type":"path","i":47,"x":0.441,"y":-0.336},
        {"panel":"Sham control","type":"path","i":48,"x":0.403,"y":-0.440},
        {"panel":"Sham control","type":"path","i":49,"x":0.367,"y":-0.504},
        {"panel":"Sham control","type":"path","i":50,"x":0.321,"y":-0.504},
        {"panel":"Sham control","type":"path","i":51,"x":0.301,"y":-0.400},
        {"panel":"Sham control","type":"path","i":52,"x":0.305,"y":-0.256},
        {"panel":"Sham control","type":"path","i":53,"x":0.328,"y":-0.136},
        {"panel":"Sham control","type":"path","i":54,"x":0.362,"y":-0.048},
        {"panel":"Sham control","type":"path","i":55,"x":0.389,"y":0.032},
        {"panel":"Sham control","type":"path","i":56,"x":0.412,"y":0.112},
        {"panel":"Sham control","type":"path","i":57,"x":0.434,"y":0.168},
        {"panel":"Sham control","type":"path","i":58,"x":0.434,"y":0.216},

        {"panel":"0.45 W/kg","type":"path","i":1,"x":0.833,"y":-0.368},
        {"panel":"0.45 W/kg","type":"path","i":2,"x":0.868,"y":-0.280},
        {"panel":"0.45 W/kg","type":"path","i":3,"x":0.795,"y":-0.344},
        {"panel":"0.45 W/kg","type":"path","i":4,"x":0.712,"y":-0.416},
        {"panel":"0.45 W/kg","type":"path","i":5,"x":0.628,"y":-0.496},
        {"panel":"0.45 W/kg","type":"path","i":6,"x":0.587,"y":-0.576},
        {"panel":"0.45 W/kg","type":"path","i":7,"x":0.572,"y":-0.656},
        {"panel":"0.45 W/kg","type":"path","i":8,"x":0.555,"y":-0.736},
        {"panel":"0.45 W/kg","type":"path","i":9,"x":0.514,"y":-0.784},
        {"panel":"0.45 W/kg","type":"path","i":10,"x":0.441,"y":-0.824},
        {"panel":"0.45 W/kg","type":"path","i":11,"x":0.315,"y":-0.840},
        {"panel":"0.45 W/kg","type":"path","i":12,"x":0.221,"y":-0.832},
        {"panel":"0.45 W/kg","type":"path","i":13,"x":0.148,"y":-0.792},
        {"panel":"0.45 W/kg","type":"path","i":14,"x":0.086,"y":-0.720},
        {"panel":"0.45 W/kg","type":"path","i":15,"x":0.033,"y":-0.640},
        {"panel":"0.45 W/kg","type":"path","i":16,"x":-0.008,"y":-0.528},
        {"panel":"0.45 W/kg","type":"path","i":17,"x":-0.044,"y":-0.416},
        {"panel":"0.45 W/kg","type":"path","i":18,"x":-0.071,"y":-0.320},
        {"panel":"0.45 W/kg","type":"path","i":19,"x":-0.098,"y":-0.224},
        {"panel":"0.45 W/kg","type":"path","i":20,"x":-0.113,"y":-0.080},
        {"panel":"0.45 W/kg","type":"path","i":21,"x":-0.113,"y":0.032},
        {"panel":"0.45 W/kg","type":"path","i":22,"x":-0.102,"y":0.128},
        {"panel":"0.45 W/kg","type":"path","i":23,"x":-0.071,"y":0.208},
        {"panel":"0.45 W/kg","type":"path","i":24,"x":-0.029,"y":0.288},
        {"panel":"0.45 W/kg","type":"path","i":25,"x":0.044,"y":0.368},
        {"panel":"0.45 W/kg","type":"path","i":26,"x":0.127,"y":0.424},
        {"panel":"0.45 W/kg","type":"path","i":27,"x":0.184,"y":0.496},
        {"panel":"0.45 W/kg","type":"path","i":28,"x":0.211,"y":0.576},
        {"panel":"0.45 W/kg","type":"path","i":29,"x":0.228,"y":0.656},
        {"panel":"0.45 W/kg","type":"path","i":30,"x":0.221,"y":0.720},
        {"panel":"0.45 W/kg","type":"path","i":31,"x":0.180,"y":0.768},
        {"panel":"0.45 W/kg","type":"path","i":32,"x":0.117,"y":0.771},
        {"panel":"0.45 W/kg","type":"path","i":33,"x":0.044,"y":0.736},
        {"panel":"0.45 W/kg","type":"path","i":34,"x":-0.040,"y":0.688},
        {"panel":"0.45 W/kg","type":"path","i":35,"x":-0.134,"y":0.608},
        {"panel":"0.45 W/kg","type":"path","i":36,"x":-0.217,"y":0.544},
        {"panel":"0.45 W/kg","type":"path","i":37,"x":-0.322,"y":0.464},
        {"panel":"0.45 W/kg","type":"path","i":38,"x":-0.395,"y":0.416},
        {"panel":"0.45 W/kg","type":"path","i":39,"x":-0.478,"y":0.368},
        {"panel":"0.45 W/kg","type":"path","i":40,"x":-0.541,"y":0.296},
        {"panel":"0.45 W/kg","type":"path","i":41,"x":-0.572,"y":0.176},
        {"panel":"0.45 W/kg","type":"path","i":42,"x":-0.593,"y":0.080},
        {"panel":"0.45 W/kg","type":"path","i":43,"x":-0.589,"y":-0.032},
        {"panel":"0.45 W/kg","type":"path","i":44,"x":-0.541,"y":-0.128},
        {"panel":"0.45 W/kg","type":"path","i":45,"x":-0.489,"y":-0.200},
        {"panel":"0.45 W/kg","type":"path","i":46,"x":-0.461,"y":-0.272},
        {"panel":"0.45 W/kg","type":"path","i":47,"x":-0.468,"y":-0.368},
        {"panel":"0.45 W/kg","type":"path","i":48,"x":-0.499,"y":-0.432},
        {"panel":"0.45 W/kg","type":"path","i":49,"x":-0.545,"y":-0.496},
        {"panel":"0.45 W/kg","type":"path","i":50,"x":-0.541,"y":-0.560},
        {"panel":"0.45 W/kg","type":"path","i":51,"x":-0.478,"y":-0.589},
        {"panel":"0.45 W/kg","type":"path","i":52,"x":-0.395,"y":-0.584},
        {"panel":"0.45 W/kg","type":"path","i":53,"x":-0.290,"y":-0.536},
        {"panel":"0.45 W/kg","type":"path","i":54,"x":-0.186,"y":-0.464},
        {"panel":"0.45 W/kg","type":"path","i":55,"x":-0.071,"y":-0.336},
        {"panel":"0.45 W/kg","type":"path","i":56,"x":0.023,"y":-0.240},
        {"panel":"0.45 W/kg","type":"path","i":57,"x":0.106,"y":-0.160},
        {"panel":"0.45 W/kg","type":"path","i":58,"x":0.211,"y":-0.096},
        {"panel":"0.45 W/kg","type":"path","i":59,"x":0.294,"y":-0.061},
        {"panel":"0.45 W/kg","type":"path","i":60,"x":0.503,"y":-0.061},
        {"panel":"0.45 W/kg","type":"path","i":61,"x":0.587,"y":-0.080},
        {"panel":"0.45 W/kg","type":"path","i":62,"x":0.660,"y":-0.160},
        {"panel":"0.45 W/kg","type":"path","i":63,"x":0.691,"y":-0.256},
        {"panel":"0.45 W/kg","type":"path","i":64,"x":0.681,"y":-0.368},
        {"panel":"0.45 W/kg","type":"path","i":65,"x":0.639,"y":-0.464},
        {"panel":"0.45 W/kg","type":"path","i":66,"x":0.566,"y":-0.544},
        {"panel":"0.45 W/kg","type":"path","i":67,"x":0.461,"y":-0.589},
        {"panel":"0.45 W/kg","type":"path","i":68,"x":0.388,"y":-0.589},
        {"panel":"0.45 W/kg","type":"path","i":69,"x":0.294,"y":-0.544},
        {"panel":"0.45 W/kg","type":"path","i":70,"x":0.190,"y":-0.480},
        {"panel":"0.45 W/kg","type":"path","i":71,"x":0.086,"y":-0.416},
        {"panel":"0.45 W/kg","type":"path","i":72,"x":-0.019,"y":-0.352},
        {"panel":"0.45 W/kg","type":"path","i":73,"x":-0.071,"y":-0.320},
        {"panel":"0.45 W/kg","type":"path","i":74,"x":-0.165,"y":-0.240},
        {"panel":"0.45 W/kg","type":"path","i":75,"x":-0.259,"y":-0.128},
        {"panel":"0.45 W/kg","type":"path","i":76,"x":-0.328,"y":-0.032},
        {"panel":"0.45 W/kg","type":"path","i":77,"x":-0.370,"y":0.064},
        {"panel":"0.45 W/kg","type":"path","i":78,"x":-0.388,"y":0.176},
        {"panel":"0.45 W/kg","type":"path","i":79,"x":-0.384,"y":0.288},
        {"panel":"0.45 W/kg","type":"path","i":80,"x":-0.363,"y":0.400},
        {"panel":"0.45 W/kg","type":"path","i":81,"x":-0.301,"y":0.472},
        {"panel":"0.45 W/kg","type":"path","i":82,"x":-0.228,"y":0.536},
        {"panel":"0.45 W/kg","type":"path","i":83,"x":-0.144,"y":0.584},
        {"panel":"0.45 W/kg","type":"path","i":84,"x":-0.061,"y":0.589},
        {"panel":"0.45 W/kg","type":"path","i":85,"x":0.044,"y":0.560},
        {"panel":"0.45 W/kg","type":"path","i":86,"x":0.127,"y":0.520},
        {"panel":"0.45 W/kg","type":"path","i":87,"x":0.190,"y":0.480},
        {"panel":"0.45 W/kg","type":"path","i":88,"x":0.263,"y":0.432},
        {"panel":"0.45 W/kg","type":"path","i":89,"x":0.315,"y":0.376},
        {"panel":"0.45 W/kg","type":"path","i":90,"x":0.347,"y":0.312},
        {"panel":"0.45 W/kg","type":"path","i":91,"x":0.351,"y":0.240},
        {"panel":"0.45 W/kg","type":"path","i":92,"x":0.378,"y":0.227},

        {"panel":"1.80 W/kg","type":"path","i":1,"x":0.309,"y":-0.792},
        {"panel":"1.80 W/kg","type":"path","i":2,"x":0.153,"y":-0.802},
        {"panel":"1.80 W/kg","type":"path","i":3,"x":-0.119,"y":-0.805},
        {"panel":"1.80 W/kg","type":"path","i":4,"x":-0.391,"y":-0.802},
        {"panel":"1.80 W/kg","type":"path","i":5,"x":-0.485,"y":-0.802},
        {"panel":"1.80 W/kg","type":"path","i":6,"x":-0.533,"y":-0.764},
        {"panel":"1.80 W/kg","type":"path","i":7,"x":-0.537,"y":-0.665},
        {"panel":"1.80 W/kg","type":"path","i":8,"x":-0.520,"y":-0.537},
        {"panel":"1.80 W/kg","type":"path","i":9,"x":-0.499,"y":-0.409},
        {"panel":"1.80 W/kg","type":"path","i":10,"x":-0.483,"y":-0.297},
        {"panel":"1.80 W/kg","type":"path","i":11,"x":-0.476,"y":-0.185},
        {"panel":"1.80 W/kg","type":"path","i":12,"x":-0.485,"y":-0.089},
        {"panel":"1.80 W/kg","type":"path","i":13,"x":-0.520,"y":-0.018},
        {"panel":"1.80 W/kg","type":"path","i":14,"x":-0.579,"y":0.042},
        {"panel":"1.80 W/kg","type":"path","i":15,"x":-0.658,"y":0.070},
        {"panel":"1.80 W/kg","type":"path","i":16,"x":-0.736,"y":0.061},
        {"panel":"1.80 W/kg","type":"path","i":17,"x":-0.792,"y":0.022},
        {"panel":"1.80 W/kg","type":"path","i":18,"x":-0.846,"y":-0.034},
        {"panel":"1.80 W/kg","type":"path","i":19,"x":-0.897,"y":-0.050},
        {"panel":"1.80 W/kg","type":"path","i":20,"x":-0.855,"y":-0.077},
        {"panel":"1.80 W/kg","type":"path","i":21,"x":-0.830,"y":-0.038},
        {"panel":"1.80 W/kg","type":"path","i":22,"x":-0.746,"y":0.000},
        {"panel":"1.80 W/kg","type":"path","i":23,"x":-0.679,"y":0.042},
        {"panel":"1.80 W/kg","type":"path","i":24,"x":-0.704,"y":0.102},
        {"panel":"1.80 W/kg","type":"path","i":25,"x":-0.662,"y":0.190},
        {"panel":"1.80 W/kg","type":"path","i":26,"x":-0.579,"y":0.278},
        {"panel":"1.80 W/kg","type":"path","i":27,"x":-0.527,"y":0.358},
        {"panel":"1.80 W/kg","type":"path","i":28,"x":-0.485,"y":0.454},
        {"panel":"1.80 W/kg","type":"path","i":29,"x":-0.443,"y":0.557},
        {"panel":"1.80 W/kg","type":"path","i":30,"x":-0.370,"y":0.621},
        {"panel":"1.80 W/kg","type":"path","i":31,"x":-0.265,"y":0.653},
        {"panel":"1.80 W/kg","type":"path","i":32,"x":-0.161,"y":0.685},
        {"panel":"1.80 W/kg","type":"path","i":33,"x":-0.036,"y":0.738},
        {"panel":"1.80 W/kg","type":"path","i":34,"x":0.048,"y":0.744},
        {"panel":"1.80 W/kg","type":"path","i":35,"x":0.111,"y":0.725},
        {"panel":"1.80 W/kg","type":"path","i":36,"x":0.163,"y":0.677},
        {"panel":"1.80 W/kg","type":"path","i":37,"x":0.215,"y":0.597},
        {"panel":"1.80 W/kg","type":"path","i":38,"x":0.257,"y":0.541},
        {"panel":"1.80 W/kg","type":"path","i":39,"x":0.320,"y":0.498},
        {"panel":"1.80 W/kg","type":"path","i":40,"x":0.393,"y":0.450},
        {"panel":"1.80 W/kg","type":"path","i":41,"x":0.508,"y":0.382},
        {"panel":"1.80 W/kg","type":"path","i":42,"x":0.571,"y":0.310},
        {"panel":"1.80 W/kg","type":"path","i":43,"x":0.617,"y":0.230},
        {"panel":"1.80 W/kg","type":"path","i":44,"x":0.658,"y":0.150},
        {"panel":"1.80 W/kg","type":"path","i":45,"x":0.713,"y":0.089},
        {"panel":"1.80 W/kg","type":"path","i":46,"x":0.763,"y":0.035},
        {"panel":"1.80 W/kg","type":"path","i":47,"x":0.784,"y":-0.022},
        {"panel":"1.80 W/kg","type":"path","i":48,"x":0.846,"y":-0.086},
        {"panel":"1.80 W/kg","type":"path","i":49,"x":0.905,"y":-0.161},
        {"panel":"1.80 W/kg","type":"path","i":50,"x":0.853,"y":-0.249},
        {"panel":"1.80 W/kg","type":"path","i":51,"x":0.780,"y":-0.321},
        {"panel":"1.80 W/kg","type":"path","i":52,"x":0.675,"y":-0.353},
        {"panel":"1.80 W/kg","type":"path","i":53,"x":0.529,"y":-0.358},
        {"panel":"1.80 W/kg","type":"path","i":54,"x":0.382,"y":-0.401},
        {"panel":"1.80 W/kg","type":"path","i":55,"x":0.257,"y":-0.441},
        {"panel":"1.80 W/kg","type":"path","i":56,"x":0.153,"y":-0.457},
        {"panel":"1.80 W/kg","type":"path","i":57,"x":0.006,"y":-0.470},
        {"panel":"1.80 W/kg","type":"path","i":58,"x":-0.161,"y":-0.470},
        {"panel":"1.80 W/kg","type":"path","i":59,"x":-0.265,"y":-0.433},
        {"panel":"1.80 W/kg","type":"path","i":60,"x":-0.370,"y":-0.385},
        {"panel":"1.80 W/kg","type":"path","i":61,"x":-0.453,"y":-0.353},
        {"panel":"1.80 W/kg","type":"path","i":62,"x":-0.495,"y":-0.342},
        {"panel":"1.80 W/kg","type":"path","i":63,"x":-0.600,"y":-0.342},
        {"panel":"1.80 W/kg","type":"path","i":64,"x":-0.673,"y":-0.369},
        {"panel":"1.80 W/kg","type":"path","i":65,"x":-0.746,"y":-0.425},
        {"panel":"1.80 W/kg","type":"path","i":66,"x":-0.788,"y":-0.489},
        {"panel":"1.80 W/kg","type":"path","i":67,"x":-0.763,"y":-0.508},
        {"panel":"1.80 W/kg","type":"path","i":68,"x":-0.694,"y":-0.473},
        {"panel":"1.80 W/kg","type":"path","i":69,"x":-0.637,"y":-0.409},
        {"panel":"1.80 W/kg","type":"path","i":70,"x":-0.600,"y":-0.342},
        {"panel":"1.80 W/kg","type":"path","i":71,"x":-0.579,"y":-0.257},
        {"panel":"1.80 W/kg","type":"path","i":72,"x":-0.575,"y":-0.153},
        {"panel":"1.80 W/kg","type":"path","i":73,"x":-0.589,"y":-0.065},
        {"panel":"1.80 W/kg","type":"path","i":74,"x":-0.621,"y":0.003},
        {"panel":"1.80 W/kg","type":"path","i":75,"x":-0.658,"y":0.062},
        {"panel":"1.80 W/kg","type":"path","i":76,"x":-0.600,"y":0.118},
        {"panel":"1.80 W/kg","type":"path","i":77,"x":-0.527,"y":0.190},
        {"panel":"1.80 W/kg","type":"path","i":78,"x":-0.470,"y":0.278},
        {"panel":"1.80 W/kg","type":"path","i":79,"x":-0.428,"y":0.374},
        {"panel":"1.80 W/kg","type":"path","i":80,"x":-0.380,"y":0.454},
        {"panel":"1.80 W/kg","type":"path","i":81,"x":-0.328,"y":0.534},
        {"panel":"1.80 W/kg","type":"path","i":82,"x":-0.245,"y":0.605},
        {"panel":"1.80 W/kg","type":"path","i":83,"x":-0.119,"y":0.641},
        {"panel":"1.80 W/kg","type":"path","i":84,"x":-0.004,"y":0.653},
        {"panel":"1.80 W/kg","type":"path","i":85,"x":0.079,"y":0.637},
        {"panel":"1.80 W/kg","type":"path","i":86,"x":0.163,"y":0.594},
        {"panel":"1.80 W/kg","type":"path","i":87,"x":0.247,"y":0.541},
        {"panel":"1.80 W/kg","type":"path","i":88,"x":0.330,"y":0.482},
        {"panel":"1.80 W/kg","type":"path","i":89,"x":0.414,"y":0.430},
        {"panel":"1.80 W/kg","type":"path","i":90,"x":0.487,"y":0.377},
        {"panel":"1.80 W/kg","type":"path","i":91,"x":0.550,"y":0.323},
        {"panel":"1.80 W/kg","type":"path","i":92,"x":0.596,"y":0.254},
        {"panel":"1.80 W/kg","type":"path","i":93,"x":0.637,"y":0.169},
        {"panel":"1.80 W/kg","type":"path","i":94,"x":0.692,"y":0.105},
        {"panel":"1.80 W/kg","type":"path","i":95,"x":0.748,"y":0.051},
        {"panel":"1.80 W/kg","type":"path","i":96,"x":0.775,"y":-0.010},
        {"panel":"1.80 W/kg","type":"path","i":97,"x":0.769,"y":-0.089},
        {"panel":"1.80 W/kg","type":"path","i":98,"x":0.721,"y":-0.141},
        {"panel":"1.80 W/kg","type":"path","i":99,"x":0.675,"y":-0.177},
        {"panel":"1.80 W/kg","type":"path","i":100,"x":0.644,"y":-0.225},
        {"panel":"1.80 W/kg","type":"path","i":101,"x":0.571,"y":-0.289},
        {"panel":"1.80 W/kg","type":"path","i":102,"x":0.497,"y":-0.342},
        {"panel":"1.80 W/kg","type":"path","i":103,"x":0.466,"y":-0.406},
        {"panel":"1.80 W/kg","type":"path","i":104,"x":0.445,"y":-0.497},
        {"panel":"1.80 W/kg","type":"path","i":105,"x":0.414,"y":-0.593},
        {"panel":"1.80 W/kg","type":"path","i":106,"x":0.372,"y":-0.681},
        {"panel":"1.80 W/kg","type":"path","i":107,"x":0.309,"y":-0.736},
        {"panel":"1.80 W/kg","type":"path","i":108,"x":0.215,"y":-0.748},
        {"panel":"1.80 W/kg","type":"path","i":109,"x":0.132,"y":-0.725},
        {"panel":"1.80 W/kg","type":"path","i":110,"x":0.048,"y":-0.701},
        {"panel":"1.80 W/kg","type":"path","i":111,"x":-0.036,"y":-0.704},
        {"panel":"1.80 W/kg","type":"path","i":112,"x":-0.119,"y":-0.741},
        {"panel":"1.80 W/kg","type":"path","i":113,"x":-0.224,"y":-0.792},
        {"panel":"1.80 W/kg","type":"path","i":114,"x":-0.328,"y":-0.805},
        {"panel":"1.80 W/kg","type":"path","i":115,"x":-0.443,"y":-0.802},
        {"panel":"1.80 W/kg","type":"path","i":116,"x":-0.370,"y":-0.768},
        {"panel":"1.80 W/kg","type":"path","i":117,"x":-0.265,"y":-0.728},
        {"panel":"1.80 W/kg","type":"path","i":118,"x":-0.161,"y":-0.673},
        {"panel":"1.80 W/kg","type":"path","i":119,"x":-0.098,"y":-0.601},
        {"panel":"1.80 W/kg","type":"path","i":120,"x":-0.056,"y":-0.521},
        {"panel":"1.80 W/kg","type":"path","i":121,"x":-0.025,"y":-0.425},
        {"panel":"1.80 W/kg","type":"path","i":122,"x":0.006,"y":-0.316},
        {"panel":"1.80 W/kg","type":"path","i":123,"x":0.048,"y":-0.220},
        {"panel":"1.80 W/kg","type":"path","i":124,"x":0.111,"y":-0.153},
        {"panel":"1.80 W/kg","type":"path","i":125,"x":0.215,"y":-0.089},
        {"panel":"1.80 W/kg","type":"path","i":126,"x":0.320,"y":-0.058},
        {"panel":"1.80 W/kg","type":"path","i":127,"x":0.435,"y":-0.034},
        {"panel":"1.80 W/kg","type":"path","i":128,"x":0.518,"y":-0.034},
        {"panel":"1.80 W/kg","type":"path","i":129,"x":0.602,"y":-0.065},
        {"panel":"1.80 W/kg","type":"path","i":130,"x":0.654,"y":-0.113},
        {"panel":"1.80 W/kg","type":"path","i":131,"x":0.681,"y":-0.177},
        {"panel":"1.80 W/kg","type":"path","i":132,"x":0.681,"y":-0.265},
        {"panel":"1.80 W/kg","type":"path","i":133,"x":0.644,"y":-0.313},
        {"panel":"1.80 W/kg","type":"path","i":134,"x":0.571,"y":-0.329},
        {"panel":"1.80 W/kg","type":"path","i":135,"x":0.487,"y":-0.326},
        {"panel":"1.80 W/kg","type":"path","i":136,"x":0.393,"y":-0.289},
        {"panel":"1.80 W/kg","type":"path","i":137,"x":0.320,"y":-0.233},
        {"panel":"1.80 W/kg","type":"path","i":138,"x":0.268,"y":-0.161},
        {"panel":"1.80 W/kg","type":"path","i":139,"x":0.236,"y":-0.058},
        {"panel":"1.80 W/kg","type":"path","i":140,"x":0.247,"y":0.054},
        {"panel":"1.80 W/kg","type":"path","i":141,"x":0.299,"y":0.142},
        {"panel":"1.80 W/kg","type":"path","i":142,"x":0.382,"y":0.195},

        {"panel":"3.60 W/kg","type":"path","i":1,"x":0.223,"y":-0.923},
        {"panel":"3.60 W/kg","type":"path","i":2,"x":0.129,"y":-0.859},
        {"panel":"3.60 W/kg","type":"path","i":3,"x":0.004,"y":-0.787},
        {"panel":"3.60 W/kg","type":"path","i":4,"x":0.088,"y":-0.734},
        {"panel":"3.60 W/kg","type":"path","i":5,"x":0.192,"y":-0.683},
        {"panel":"3.60 W/kg","type":"path","i":6,"x":0.275,"y":-0.603},
        {"panel":"3.60 W/kg","type":"path","i":7,"x":0.317,"y":-0.491},
        {"panel":"3.60 W/kg","type":"path","i":8,"x":0.333,"y":-0.379},
        {"panel":"3.60 W/kg","type":"path","i":9,"x":0.348,"y":-0.267},
        {"panel":"3.60 W/kg","type":"path","i":10,"x":0.400,"y":-0.179},
        {"panel":"3.60 W/kg","type":"path","i":11,"x":0.452,"y":-0.115},
        {"panel":"3.60 W/kg","type":"path","i":12,"x":0.546,"y":-0.104},
        {"panel":"3.60 W/kg","type":"path","i":13,"x":0.640,"y":-0.131},
        {"panel":"3.60 W/kg","type":"path","i":14,"x":0.713,"y":-0.179},
        {"panel":"3.60 W/kg","type":"path","i":15,"x":0.771,"y":-0.251},
        {"panel":"3.60 W/kg","type":"path","i":16,"x":0.754,"y":-0.328},
        {"panel":"3.60 W/kg","type":"path","i":17,"x":0.702,"y":-0.371},
        {"panel":"3.60 W/kg","type":"path","i":18,"x":0.650,"y":-0.392},
        {"panel":"3.60 W/kg","type":"path","i":19,"x":0.567,"y":-0.398},
        {"panel":"3.60 W/kg","type":"path","i":20,"x":0.463,"y":-0.363},
        {"panel":"3.60 W/kg","type":"path","i":21,"x":0.358,"y":-0.299},
        {"panel":"3.60 W/kg","type":"path","i":22,"x":0.254,"y":-0.219},
        {"panel":"3.60 W/kg","type":"path","i":23,"x":0.150,"y":-0.155},
        {"panel":"3.60 W/kg","type":"path","i":24,"x":0.046,"y":-0.091},
        {"panel":"3.60 W/kg","type":"path","i":25,"x":-0.058,"y":-0.051},
        {"panel":"3.60 W/kg","type":"path","i":26,"x":-0.142,"y":0.005},
        {"panel":"3.60 W/kg","type":"path","i":27,"x":-0.215,"y":0.069},
        {"panel":"3.60 W/kg","type":"path","i":28,"x":-0.256,"y":0.133},
        {"panel":"3.60 W/kg","type":"path","i":29,"x":-0.267,"y":0.261},
        {"panel":"3.60 W/kg","type":"path","i":30,"x":-0.271,"y":0.421},
        {"panel":"3.60 W/kg","type":"path","i":31,"x":-0.277,"y":0.581},
        {"panel":"3.60 W/kg","type":"path","i":32,"x":-0.288,"y":0.741},
        {"panel":"3.60 W/kg","type":"path","i":33,"x":-0.298,"y":0.837},
        {"panel":"3.60 W/kg","type":"path","i":34,"x":-0.381,"y":0.829},
        {"panel":"3.60 W/kg","type":"path","i":35,"x":-0.433,"y":0.789},
        {"panel":"3.60 W/kg","type":"path","i":36,"x":-0.458,"y":0.725},
        {"panel":"3.60 W/kg","type":"path","i":37,"x":-0.496,"y":0.645},
        {"panel":"3.60 W/kg","type":"path","i":38,"x":-0.538,"y":0.549},
        {"panel":"3.60 W/kg","type":"path","i":39,"x":-0.558,"y":0.453},
        {"panel":"3.60 W/kg","type":"path","i":40,"x":-0.558,"y":0.341},
        {"panel":"3.60 W/kg","type":"path","i":41,"x":-0.563,"y":0.165},
        {"panel":"3.60 W/kg","type":"path","i":42,"x":-0.569,"y":0.037},
        {"panel":"3.60 W/kg","type":"path","i":43,"x":-0.583,"y":-0.059},
        {"panel":"3.60 W/kg","type":"path","i":44,"x":-0.621,"y":-0.155},
        {"panel":"3.60 W/kg","type":"path","i":45,"x":-0.652,"y":-0.219},
        {"panel":"3.60 W/kg","type":"path","i":46,"x":-0.667,"y":-0.283},
        {"panel":"3.60 W/kg","type":"path","i":47,"x":-0.621,"y":-0.275},
        {"panel":"3.60 W/kg","type":"path","i":48,"x":-0.538,"y":-0.219},
        {"panel":"3.60 W/kg","type":"path","i":49,"x":-0.475,"y":-0.139},
        {"panel":"3.60 W/kg","type":"path","i":50,"x":-0.444,"y":-0.043},
        {"panel":"3.60 W/kg","type":"path","i":51,"x":-0.423,"y":0.053},
        {"panel":"3.60 W/kg","type":"path","i":52,"x":-0.408,"y":0.165},
        {"panel":"3.60 W/kg","type":"path","i":53,"x":-0.392,"y":0.261},
        {"panel":"3.60 W/kg","type":"path","i":54,"x":-0.360,"y":0.333},
        {"panel":"3.60 W/kg","type":"path","i":55,"x":-0.319,"y":0.389},
        {"panel":"3.60 W/kg","type":"path","i":56,"x":-0.246,"y":0.429},
        {"panel":"3.60 W/kg","type":"path","i":57,"x":-0.142,"y":0.453},
        {"panel":"3.60 W/kg","type":"path","i":58,"x":-0.017,"y":0.453},
        {"panel":"3.60 W/kg","type":"path","i":59,"x":0.067,"y":0.421},
        {"panel":"3.60 W/kg","type":"path","i":60,"x":0.129,"y":0.373},
        {"panel":"3.60 W/kg","type":"path","i":61,"x":0.181,"y":0.309},
        {"panel":"3.60 W/kg","type":"path","i":62,"x":0.233,"y":0.253},
        {"panel":"3.60 W/kg","type":"path","i":63,"x":0.285,"y":0.189},
        {"panel":"3.60 W/kg","type":"path","i":64,"x":0.348,"y":0.125},
        {"panel":"3.60 W/kg","type":"path","i":65,"x":0.410,"y":0.077},
        {"panel":"3.60 W/kg","type":"path","i":66,"x":0.463,"y":0.024},
        {"panel":"3.60 W/kg","type":"path","i":67,"x":0.508,"y":-0.035},
        {"panel":"3.60 W/kg","type":"path","i":68,"x":0.546,"y":-0.123},
        {"panel":"3.60 W/kg","type":"path","i":69,"x":0.577,"y":-0.219},
        {"panel":"3.60 W/kg","type":"path","i":70,"x":0.598,"y":-0.299},
        {"panel":"3.60 W/kg","type":"path","i":71,"x":0.613,"y":-0.379},
        {"panel":"3.60 W/kg","type":"path","i":72,"x":0.650,"y":-0.443},
        {"panel":"3.60 W/kg","type":"path","i":73,"x":0.713,"y":-0.475},
        {"panel":"3.60 W/kg","type":"path","i":74,"x":0.775,"y":-0.459},
        {"panel":"3.60 W/kg","type":"path","i":75,"x":0.813,"y":-0.395},
        {"panel":"3.60 W/kg","type":"path","i":76,"x":0.821,"y":-0.299},
        {"panel":"3.60 W/kg","type":"path","i":77,"x":0.817,"y":-0.155},
        {"panel":"3.60 W/kg","type":"path","i":78,"x":0.792,"y":-0.059},
        {"panel":"3.60 W/kg","type":"path","i":79,"x":0.754,"y":0.021},
        {"panel":"3.60 W/kg","type":"path","i":80,"x":0.713,"y":0.101},
        {"panel":"3.60 W/kg","type":"path","i":81,"x":0.717,"y":0.189},
        {"panel":"3.60 W/kg","type":"path","i":82,"x":0.744,"y":0.242},
        {"panel":"3.60 W/kg","type":"path","i":83,"x":0.796,"y":0.261},
        {"panel":"3.60 W/kg","type":"path","i":84,"x":0.848,"y":0.245},
        {"panel":"3.60 W/kg","type":"path","i":85,"x":0.869,"y":0.197},
        {"panel":"3.60 W/kg","type":"path","i":86,"x":0.858,"y":0.141},
        {"panel":"3.60 W/kg","type":"path","i":87,"x":0.842,"y":0.101},
        {"panel":"3.60 W/kg","type":"path","i":88,"x":0.842,"y":-0.027},
        {"panel":"3.60 W/kg","type":"path","i":89,"x":0.838,"y":-0.187},
        {"panel":"3.60 W/kg","type":"path","i":90,"x":0.829,"y":-0.347},
        {"panel":"3.60 W/kg","type":"path","i":91,"x":0.796,"y":-0.427},
        {"panel":"3.60 W/kg","type":"path","i":92,"x":0.733,"y":-0.523},
        {"panel":"3.60 W/kg","type":"path","i":93,"x":0.671,"y":-0.635},
        {"panel":"3.60 W/kg","type":"path","i":94,"x":0.608,"y":-0.691},
        {"panel":"3.60 W/kg","type":"path","i":95,"x":0.577,"y":-0.723},
        {"panel":"3.60 W/kg","type":"path","i":96,"x":0.483,"y":-0.731},
        {"panel":"3.60 W/kg","type":"path","i":97,"x":0.400,"y":-0.763},
        {"panel":"3.60 W/kg","type":"path","i":98,"x":0.317,"y":-0.843},
        {"panel":"3.60 W/kg","type":"path","i":99,"x":0.223,"y":-0.923},
        {"panel":"3.60 W/kg","type":"path","i":100,"x":0.171,"y":-0.910},
        {"panel":"3.60 W/kg","type":"path","i":101,"x":0.108,"y":-0.923},
        {"panel":"3.60 W/kg","type":"path","i":102,"x":0.004,"y":-0.899},
        {"panel":"3.60 W/kg","type":"path","i":103,"x":-0.100,"y":-0.883},
        {"panel":"3.60 W/kg","type":"path","i":104,"x":-0.167,"y":-0.875},
        {"panel":"3.60 W/kg","type":"path","i":105,"x":-0.163,"y":-0.910},
        {"panel":"3.60 W/kg","type":"path","i":106,"x":-0.215,"y":-0.907},
        {"panel":"3.60 W/kg","type":"path","i":107,"x":-0.267,"y":-0.859},
        {"panel":"3.60 W/kg","type":"path","i":108,"x":-0.304,"y":-0.779},
        {"panel":"3.60 W/kg","type":"path","i":109,"x":-0.325,"y":-0.667},
        {"panel":"3.60 W/kg","type":"path","i":110,"x":-0.319,"y":-0.571},
        {"panel":"3.60 W/kg","type":"path","i":111,"x":-0.277,"y":-0.475},
        {"panel":"3.60 W/kg","type":"path","i":112,"x":-0.204,"y":-0.395},
        {"panel":"3.60 W/kg","type":"path","i":113,"x":-0.100,"y":-0.331},
        {"panel":"3.60 W/kg","type":"path","i":114,"x":0.004,"y":-0.291},
        {"panel":"3.60 W/kg","type":"path","i":115,"x":0.129,"y":-0.267},
        {"panel":"3.60 W/kg","type":"path","i":116,"x":0.275,"y":-0.243},
        {"panel":"3.60 W/kg","type":"path","i":117,"x":0.348,"y":-0.232},
        {"panel":"3.60 W/kg","type":"path","i":118,"x":0.442,"y":-0.131},
        {"panel":"3.60 W/kg","type":"path","i":119,"x":0.515,"y":-0.051},
        {"panel":"3.60 W/kg","type":"path","i":120,"x":0.556,"y":0.005},
        {"panel":"3.60 W/kg","type":"path","i":121,"x":0.608,"y":0.061},
        {"panel":"3.60 W/kg","type":"path","i":122,"x":0.660,"y":0.117},
        {"panel":"3.60 W/kg","type":"path","i":123,"x":0.717,"y":0.189},
        {"panel":"3.60 W/kg","type":"path","i":124,"x":0.771,"y":0.261},
        {"panel":"3.60 W/kg","type":"path","i":125,"x":0.785,"y":0.357},
        {"panel":"3.60 W/kg","type":"path","i":126,"x":0.765,"y":0.453},
        {"panel":"3.60 W/kg","type":"path","i":127,"x":0.723,"y":0.533},
        {"panel":"3.60 W/kg","type":"path","i":128,"x":0.671,"y":0.581},
        {"panel":"3.60 W/kg","type":"path","i":129,"x":0.588,"y":0.645},
        {"panel":"3.60 W/kg","type":"path","i":130,"x":0.483,"y":0.709},
        {"panel":"3.60 W/kg","type":"path","i":131,"x":0.379,"y":0.765},
        {"panel":"3.60 W/kg","type":"path","i":132,"x":0.275,"y":0.829},
        {"panel":"3.60 W/kg","type":"path","i":133,"x":0.192,"y":0.869},
        {"panel":"3.60 W/kg","type":"path","i":134,"x":0.129,"y":0.885},
        {"panel":"3.60 W/kg","type":"path","i":135,"x":0.004,"y":0.861},
        {"panel":"3.60 W/kg","type":"path","i":136,"x":-0.121,"y":0.845},
        {"panel":"3.60 W/kg","type":"path","i":137,"x":-0.298,"y":0.840},
        {"panel":"3.60 W/kg","type":"path","i":138,"x":-0.142,"y":0.837},
        {"panel":"3.60 W/kg","type":"path","i":139,"x":0.004,"y":0.821},
        {"panel":"3.60 W/kg","type":"path","i":140,"x":0.088,"y":0.786},
        {"panel":"3.60 W/kg","type":"path","i":141,"x":0.150,"y":0.741},
        {"panel":"3.60 W/kg","type":"path","i":142,"x":0.181,"y":0.677},
        {"panel":"3.60 W/kg","type":"path","i":143,"x":0.202,"y":0.573},
        {"panel":"3.60 W/kg","type":"path","i":144,"x":0.229,"y":0.477},
        {"panel":"3.60 W/kg","type":"path","i":145,"x":0.271,"y":0.381},
        {"panel":"3.60 W/kg","type":"path","i":146,"x":0.317,"y":0.306},
        {"panel":"3.60 W/kg","type":"path","i":147,"x":0.369,"y":0.232},
        {"panel":"3.60 W/kg","type":"path","i":148,"x":0.400,"y":0.216}
      ]},
      "facet": {"field": "panel", "type": "nominal", "title": null,
                "sort": ["Sham control", "0.45 W/kg", "1.80 W/kg", "3.60 W/kg"],
                "header": {"labelExpr": "''", "labelFontSize": 1, "labelPadding": 0, "title": null}},
      "columns": 2,
      "spacing": {"row": 135, "column": 179},
      "spec": {
        "width": 1089, "height": 815,
        "view": {"stroke": "#b4b4b4", "strokeWidth": 3},
        "encoding": {
          "x": {"field": "x", "type": "quantitative", "scale": {"domain": [-1.486, 1.486], "nice": false, "zero": false}, "axis": null},
          "y": {"field": "y", "type": "quantitative", "scale": {"domain": [-1.112, 1.112], "nice": false, "zero": false}, "axis": null}
        },
        "layer": [
          {
            "transform": [{"filter": "datum.type === 'pool'"}],
            "mark": {"type": "point", "shape": "circle", "size": 536000, "filled": false, "color": "#b4b4b4", "strokeWidth": 3, "opacity": 1}
          },
          {
            "transform": [{"filter": "datum.type === 'hline' || datum.type === 'vline' || datum.type === 'edge'"}],
            "mark": {"type": "rule"},
            "encoding": {
              "x2": {"field": "x2"},
              "y2": {"field": "y2"},
              "color": {"condition": {"test": "datum.type === 'edge' || (datum.type === 'hline' && (datum.panel === 'Sham control' || datum.panel === '0.45 W/kg'))", "value": "#5cc5b2"}, "value": "#b4b4b4"},
              "strokeWidth": {"condition": {"test": "datum.type === 'edge' || datum.panel === 'Sham control' || datum.panel === '0.45 W/kg'", "value": 4}, "value": 2.5}
            }
          },
          {
            "transform": [{"filter": "datum.type === 'path'"}],
            "mark": {"type": "line", "color": "#d8285a", "strokeWidth": 1.3, "xOffset": -2},
            "encoding": {"order": {"field": "i", "type": "quantitative"}}
          },
          {
            "transform": [{"filter": "datum.type === 'path'"}],
            "mark": {"type": "line", "color": "#111111", "strokeWidth": 2.5, "strokeJoin": "round"},
            "encoding": {"order": {"field": "i", "type": "quantitative"}}
          },
          {
            "transform": [{"filter": "datum.type === 'platform'"}],
            "mark": {"type": "point", "shape": "M-1,0L1,0M0,-1L0,1M1,0A1,1,0,1,1,-1,0A1,1,0,1,1,1,0", "size": 1296, "filled": false, "color": "#d0143c", "strokeWidth": 2.5, "opacity": 1},
            "encoding": {"strokeDash": {"condition": {"test": "datum.target", "value": [1, 0]}, "value": [5, 4]}}
          },
          {
            "transform": [{"filter": "datum.type === 'name'"}],
            "mark": {"type": "text", "align": "left", "baseline": "alphabetic", "dy": -27, "fontSize": 48, "font": "Open Sans", "color": "#1a1a1a"},
            "encoding": {"text": {"field": "panel"}}
          },
          {
            "transform": [{"filter": "datum.type === 'label'"}],
            "mark": {"type": "text", "align": "right", "baseline": "alphabetic", "dy": -27, "fontSize": 48, "font": "Open Sans", "color": "#1a1a1a"},
            "encoding": {"text": {"field": "label"}}
          }
        ]
      }
    }
  ]
}
